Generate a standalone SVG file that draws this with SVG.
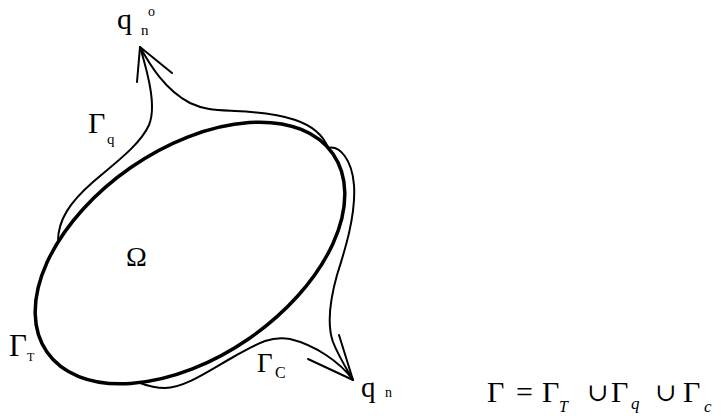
<svg xmlns="http://www.w3.org/2000/svg" width="721" height="419" viewBox="0 0 721 419">
<style>
.t{font-family:"Liberation Serif","DejaVu Serif",serif;fill:#000}
.i{font-style:italic}
.thin{fill:none;stroke:#000;stroke-width:2;stroke-linecap:round;stroke-linejoin:round}
</style>
<rect width="721" height="419" fill="#fff"/>
<g id="domain">
<ellipse cx="190" cy="253" rx="174" ry="104" transform="rotate(-34.7 190 253)" fill="none" stroke="#000" stroke-width="3.5"/>
<text class="t" x="126" y="266" font-size="28">Ω</text>
</g>
<g id="connectors">
<path class="thin" d="M58,241 C58,220 70,202 93,182 C115,163 140,145 149,125 C156,108 150,80 140,47 C150,65 165,90 190,103 C205,110 215,110 235,111 C280,113 318,120 328,148 C340,145 352,160 354,185 C356,215 345,250 337,275 C330,300 327,325 333,342 C338,355 346,368 353,380 C340,362 315,345 290,339 C270,335 255,345 235,356 C210,370 185,388 165,388 C155,388 148,386 140,383"/>
<polyline class="thin" points="137,82 140,47 172,73"/>
<polyline class="thin" points="339,335 353,380 308,359"/>
</g>
<g id="label-qno">
<text class="t" x="117" y="29" font-size="30">q</text>
<text class="t" x="141" y="35" font-size="15">n</text>
<text class="t" x="148" y="16" font-size="14">o</text>
</g>
<g id="label-gq">
<text class="t" x="88" y="133" font-size="30">Γ</text>
<text class="t" x="107" y="144" font-size="15">q</text>
</g>
<g id="label-gt">
<text class="t" x="9" y="356" font-size="31">Γ</text>
<text class="t" x="27" y="361" font-size="12">T</text>
</g>
<g id="label-gc">
<text class="t" x="257" y="372" font-size="27">Γ</text>
<text class="t" x="275" y="378" font-size="16">C</text>
</g>
<g id="label-qn">
<text class="t" x="361" y="397" font-size="29">q</text>
<text class="t" x="385" y="397" font-size="14">n</text>
</g>
<g id="formula">
<text class="t" x="487" y="402" font-size="30">Γ</text>
<text class="t" x="516" y="402" font-size="30">=</text>
<text class="t" x="542" y="402" font-size="30">Γ</text>
<text class="t i" x="559" y="412" font-size="16">T</text>
<text class="t" x="587" y="401" font-size="25">∪</text>
<text class="t" x="611" y="402" font-size="30">Γ</text>
<text class="t i" x="631" y="409" font-size="17">q</text>
<text class="t" x="655" y="401" font-size="25">∪</text>
<text class="t" x="683" y="402" font-size="30">Γ</text>
<text class="t i" x="704" y="412" font-size="17">c</text>
</g>
</svg>
